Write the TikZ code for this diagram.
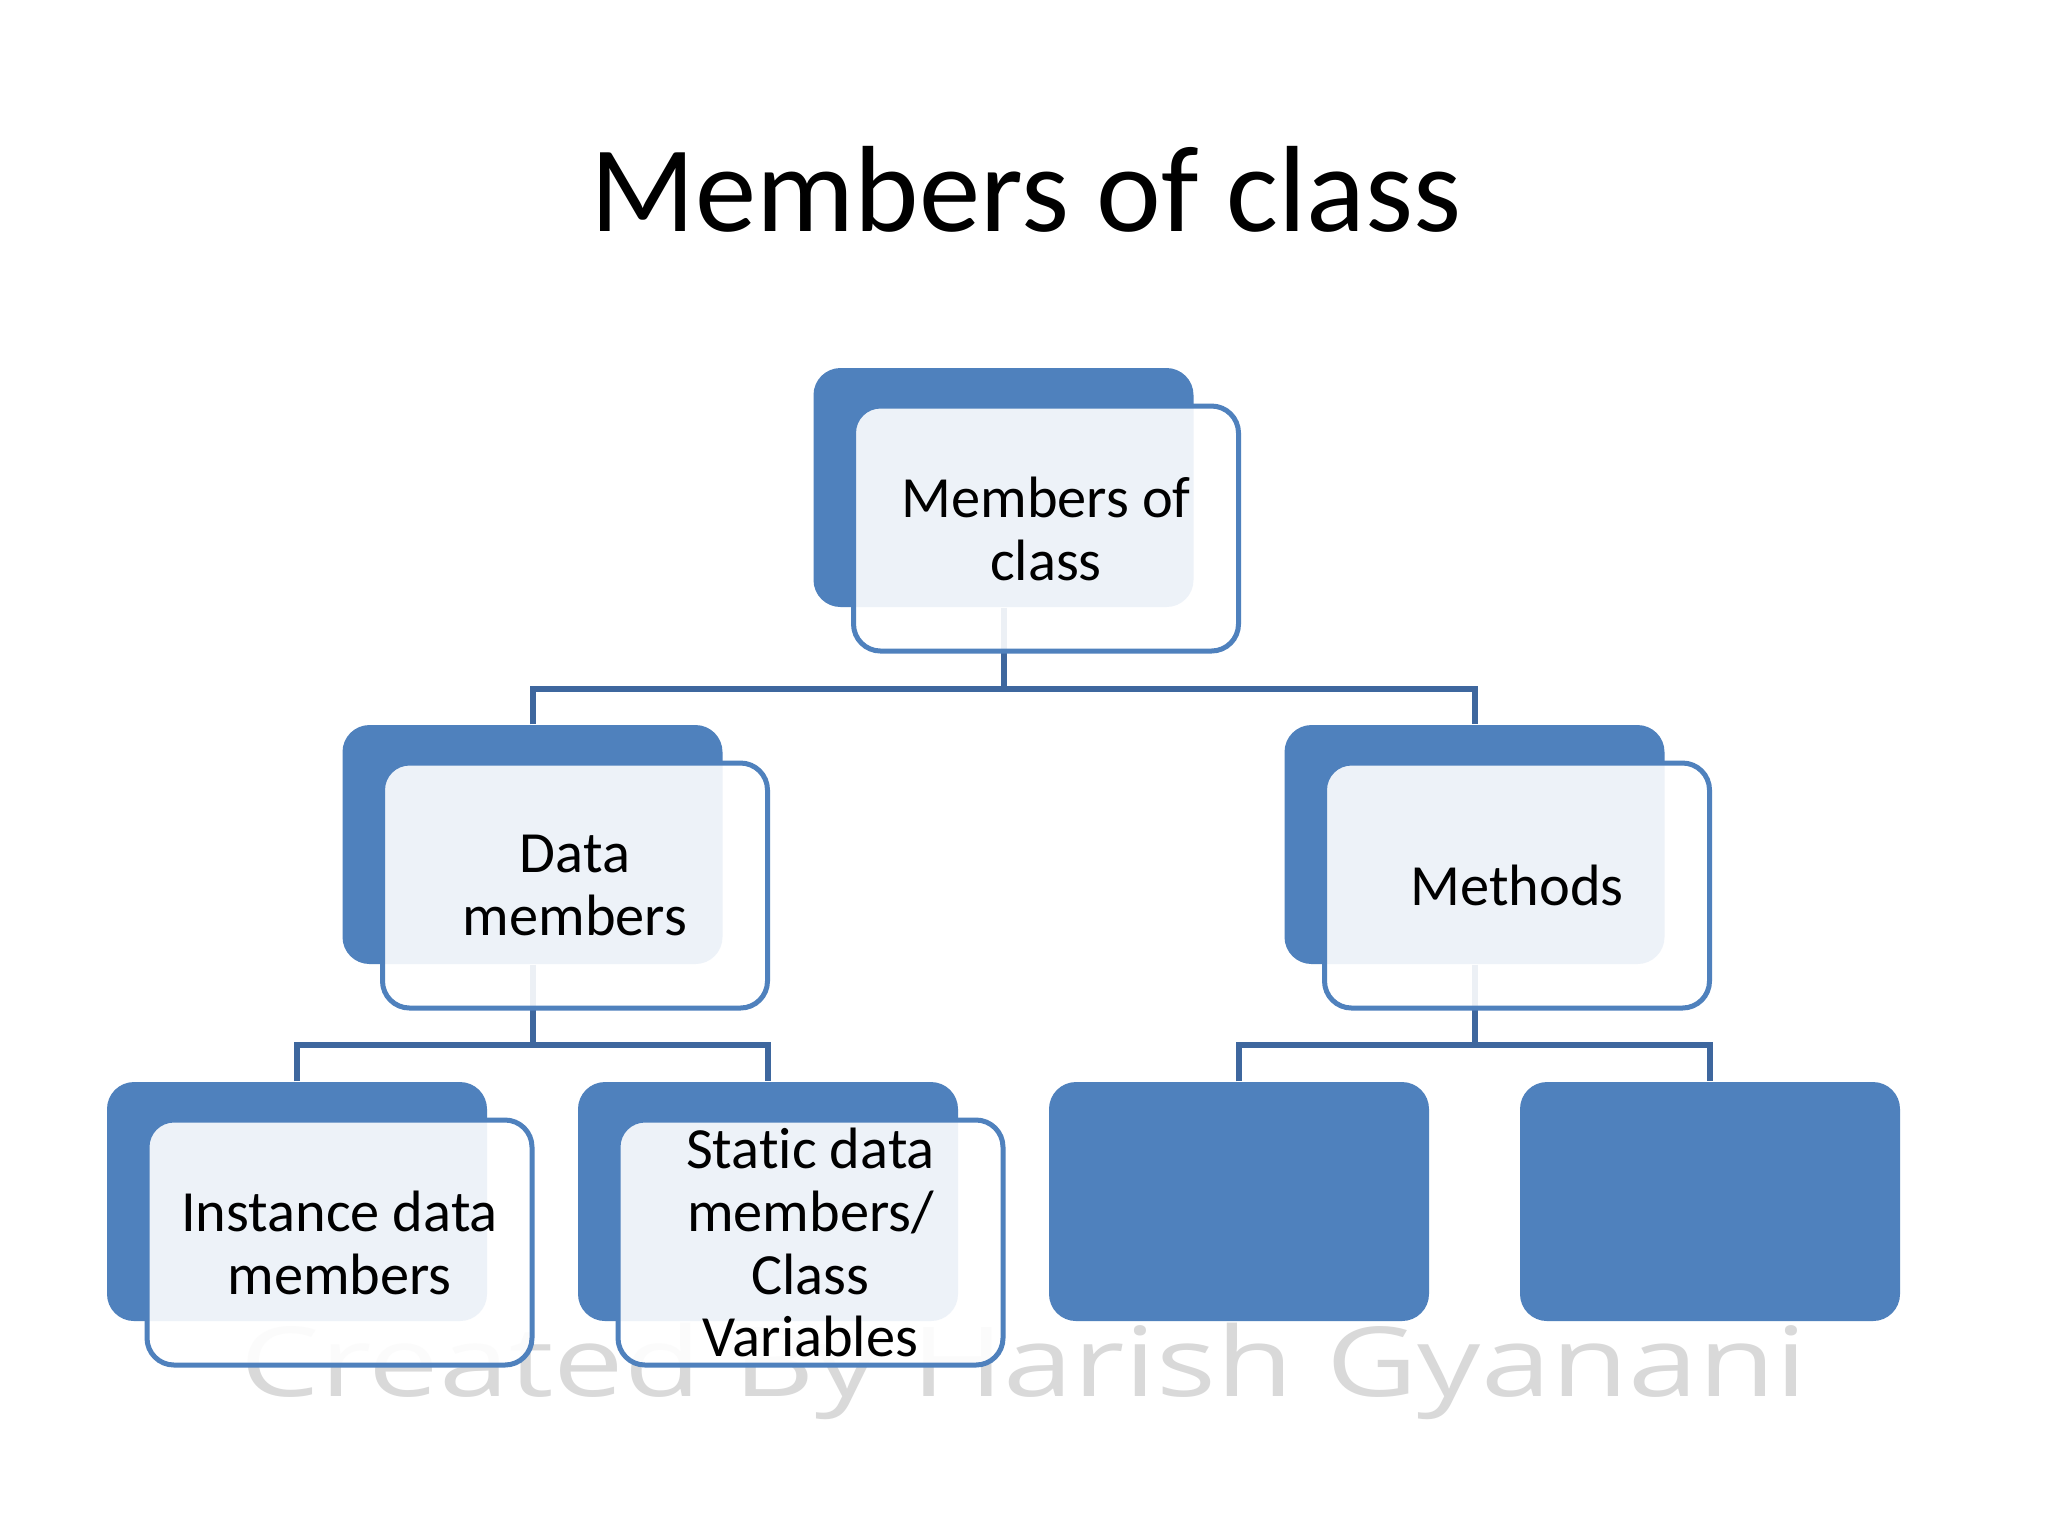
\documentclass[tikz,border=0pt]{standalone}
\usepackage{fontspec}
\setmainfont{Carlito}[Ligatures=NoCommon]
\newfontfamily\wmfont{Open Sans}
\usepackage{tikz}
\definecolor{boxblue}{RGB}{79,129,189}
\definecolor{linkblue}{RGB}{62,103,158}
\definecolor{wmgray}{RGB}{217,217,217}
\tikzstyle{backbox}=[rectangle,rounded corners=2.7mm,fill=boxblue,minimum width=38mm,minimum height=23.9mm,inner sep=0pt]
\tikzstyle{frontbox}=[rectangle,rounded corners=2.7mm,draw=boxblue,line width=0.5mm,fill=white,fill opacity=0.9,text opacity=1,minimum width=38.5mm,minimum height=24.5mm,inner sep=0pt,align=center,font=\fontsize{16.6}{17.9}\selectfont]
\tikzstyle{link}=[draw=linkblue,line width=0.6mm]

\begin{document}
\begin{tikzpicture}[x=0.1mm,y=-0.1mm]
\fill[white] (0,0) rectangle (2048,1536);
\node[anchor=base,font=\fontsize{34.9}{40}\selectfont] at (1026,231) (title) {Members of class};
\node[anchor=base,text=wmgray,font=\wmfont\fontsize{27.5}{30}\selectfont] at (1024,1396) (mark) {\scalebox{1.3}[1]{Created By Harish Gyanani}};
% back boxes
\node[backbox] at (1003.5,487.5) (mcb) {};
\node[backbox] at (532.5,844.5) (dmb) {};
\node[backbox] at (1474.5,844.5) (meb) {};
\node[backbox] at (297,1201.5) (idb) {};
\node[backbox] at (768,1201.5) (sdb) {};
\node[backbox] at (1239,1201.5) (e1) {};
\node[backbox] at (1710,1201.5) (e2) {};
% connectors
\coordinate (j1) at (1003.5,689);
\coordinate (j2) at (532.5,1045);
\coordinate (j3) at (1474.5,1045);
\draw[link] (mcb.south) -- (j1);
\draw[link] (dmb.north) |- (j1) -| (meb.north);
\draw[link] (dmb.south) -- (j2);
\draw[link] (idb.north) |- (j2) -| (sdb.north);
\draw[link] (meb.south) -- (j3);
\draw[link] (e1.north) |- (j3) -| (e2.north);
% front boxes
\node[frontbox] at (1046,528.5) (mc) {Members of\\class};
\node[frontbox] at (575,885.5) (dm) {Data\\members};
\node[frontbox] at (1517,885.5) (me) {Methods};
\node[frontbox] at (339.5,1242.5) (id) {Instance data\\members};
\node[frontbox] at (810.5,1242.5) (sd) {Static data\\members/\\Class\\Variables};
\end{tikzpicture}
\end{document}
